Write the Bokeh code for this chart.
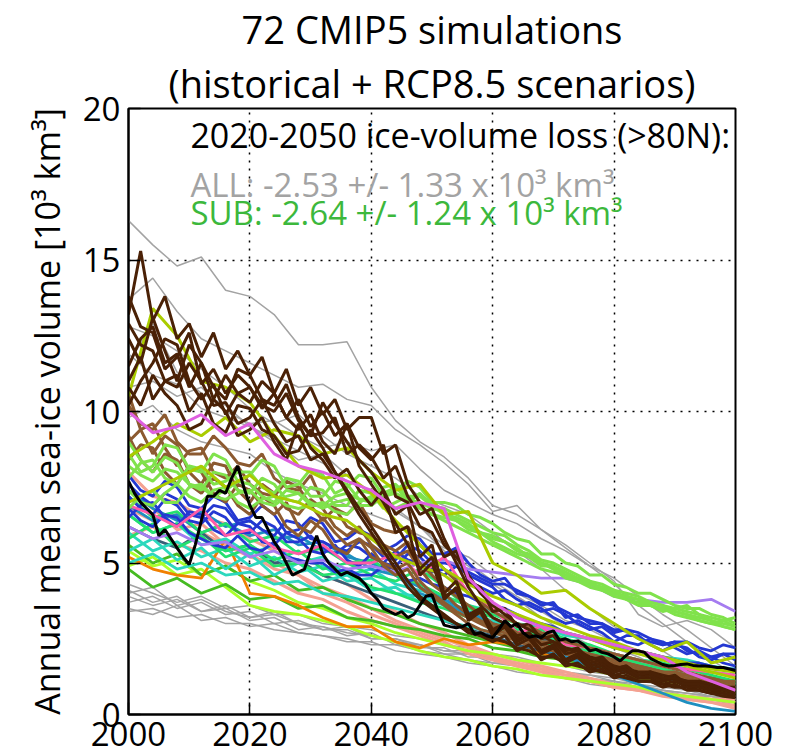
from bokeh.plotting import figure
from bokeh.models import FixedTicker, Label, Range1d, Title
from bokeh.embed import file_html
from bokeh.resources import INLINE

FONT = "Open Sans"

years_annual = list(range(2000, 2101))
years_2 = list(range(2000, 2101, 2))
years_4 = list(range(2000, 2101, 4))

x_ticks = [2000, 2020, 2040, 2060, 2080, 2100]
y_ticks = [0, 5, 10, 15, 20]

title_1 = "72 CMIP5 simulations"
title_2 = "(historical + RCP8.5 scenarios)"
y_label = "Annual mean sea-ice volume [10\u00b3 km\u00b3]"
note_head = "2020-2050 ice-volume loss (>80N):"
note_all = "ALL: -2.53 +/- 1.33 x 10\u00b3 km\u00b3"
note_sub = "SUB: -2.64 +/- 1.24 x 10\u00b3 km\u00b3"

# highlighted (black) simulation, annual values
black_line = [
    7.7, 7.3, 7.0, 6.8, 6.6, 5.9, 6.1, 5.8, 5.5, 5.2,
    4.95, 5.6, 6.4, 7.2, 7.2, 7.4, 7.3, 7.8, 8.2, 7.5,
    6.9, 6.5, 6.5, 6.1, 5.7, 5.4, 5.0, 4.6, 4.7, 4.8,
    5.4, 5.9, 5.3, 5.0, 4.8, 4.6, 4.7, 4.6, 4.5, 4.3,
    4.0, 3.8, 3.5, 3.4, 3.3, 3.4, 3.2, 3.3, 3.6, 3.9,
    3.95, 3.4, 2.95, 2.9, 2.86, 2.9, 3.0, 2.65, 2.7, 2.6,
    2.54, 2.8, 3.1, 2.9, 3.0, 2.7, 2.55, 2.6, 2.54, 2.7,
    2.76, 2.45, 2.5, 2.4, 2.43, 2.3, 2.1, 2.15, 2.05, 2.0,
    1.9, 1.77, 1.95, 2.1, 2.1, 2.05, 1.85, 1.75, 1.65, 1.6,
    1.62, 1.65, 1.67, 1.62, 1.6, 1.6, 1.58, 1.55, 1.55, 1.5,
    1.45,
]

# simulations with values every 2 years (2000, 2002, ..., 2100)
dark_brown = [
    [13.2, 15.3, 13.0, 13.8, 12.4, 12.9, 11.8, 12.6, 11.4, 12.0,
     11.2, 11.8, 10.6, 11.4, 10.2, 10.8, 9.9, 10.4, 9.4, 9.8,
     9.8, 8.6, 8.9, 7.6, 7.0, 6.4, 5.6, 5.2, 4.6, 4.0,
     3.6, 3.3, 3.0, 2.8, 2.6, 2.4, 2.2, 2.1, 1.9, 1.8,
     1.6, 1.5, 1.4, 1.4, 1.3, 1.2, 1.1, 1.0, 0.9, 0.9, 0.8],
    [11.5, 12.4, 12.8, 11.6, 11.9, 10.8, 11.6, 10.4, 11.2, 10.6,
     10.8, 10.1, 10.6, 9.8, 10.4, 9.5, 10.0, 9.2, 9.6, 8.8,
     8.4, 8.9, 7.2, 7.0, 6.2, 6.0, 5.2, 5.4, 4.4, 4.2,
     3.4, 3.5, 2.9, 3.0, 2.5, 2.6, 2.1, 2.2, 1.8, 1.9,
     1.5, 1.6, 1.3, 1.4, 1.2, 1.3, 1.0, 1.1, 0.9, 0.8, 0.7],
    [12.4, 11.6, 13.1, 12.0, 11.0, 12.2, 11.6, 10.8, 10.4, 11.4,
     11.2, 10.4, 10.2, 10.9, 9.8, 9.2, 10.3, 9.6, 9.0, 8.4,
     8.0, 7.4, 6.6, 6.9, 5.2, 5.6, 4.0, 4.4, 3.3, 3.5,
     2.8, 3.0, 2.5, 2.6, 2.1, 2.3, 1.8, 2.0, 1.6, 1.7,
     1.4, 1.5, 1.3, 1.3, 1.1, 1.2, 1.0, 0.9, 0.8, 0.8, 0.7],
    [10.2, 11.0, 11.6, 12.4, 12.2, 11.0, 10.4, 10.9, 9.9, 10.6,
     10.3, 11.0, 10.6, 9.8, 9.4, 9.9, 9.0, 8.6, 9.6, 8.2,
     7.6, 7.0, 6.3, 5.6, 4.8, 5.2, 3.8, 4.2, 3.1, 3.4,
     2.6, 2.9, 2.3, 2.5, 2.0, 2.2, 1.7, 1.9, 1.5, 1.6,
     1.3, 1.4, 1.2, 1.2, 1.0, 1.1, 0.9, 0.9, 0.8, 0.7, 0.6],
    [12.9, 12.2, 12.0, 11.0, 10.8, 11.6, 11.0, 10.2, 10.3, 9.6,
     9.8, 10.4, 9.6, 9.0, 9.2, 8.4, 8.6, 8.0, 7.3, 6.6,
     6.0, 5.4, 4.8, 4.2, 3.8, 3.5, 3.2, 3.0, 2.8, 2.6,
     2.5, 2.4, 2.2, 2.1, 1.9, 1.9, 1.7, 1.6, 1.5, 1.4,
     1.3, 1.2, 1.1, 1.1, 1.0, 0.9, 0.9, 0.8, 0.7, 0.7, 0.6],
    [10.8, 10.2, 11.2, 10.6, 10.2, 9.4, 9.6, 10.4, 10.0, 9.2,
     9.4, 9.8, 9.0, 8.4, 9.6, 8.8, 8.4, 7.8, 8.1, 7.4,
     6.9, 7.4, 6.0, 6.2, 4.6, 5.0, 3.9, 4.1, 3.2, 3.5,
     2.7, 2.9, 2.4, 2.6, 2.1, 2.3, 1.8, 2.0, 1.6, 1.7,
     1.4, 1.5, 1.2, 1.3, 1.1, 1.2, 1.0, 1.0, 0.9, 0.9, 0.8],
    [13.8, 12.8, 12.6, 11.4, 11.8, 12.6, 10.9, 11.4, 10.6, 11.2,
     10.8, 10.2, 10.0, 10.6, 9.7, 9.2, 9.3, 9.8, 8.6, 8.9,
     8.5, 7.8, 8.2, 7.2, 6.6, 6.8, 5.8, 5.0, 4.2, 3.6,
     3.2, 3.0, 2.6, 2.7, 2.3, 2.4, 2.0, 2.1, 1.7, 1.8,
     1.5, 1.6, 1.3, 1.4, 1.2, 1.2, 1.1, 1.1, 1.0, 0.9, 0.9],
    [11.0, 11.8, 10.4, 11.0, 11.2, 10.0, 10.6, 9.6, 9.3, 10.2,
     10.1, 9.4, 9.2, 8.6, 8.7, 9.4, 8.8, 8.0, 7.4, 6.8,
     6.2, 5.6, 5.0, 4.4, 3.9, 3.6, 3.3, 3.0, 2.7, 2.6,
     2.4, 2.6, 2.1, 2.3, 1.8, 2.0, 1.6, 1.7, 1.4, 1.5,
     1.2, 1.3, 1.1, 1.1, 0.9, 1.0, 0.8, 0.8, 0.7, 0.6, 0.55],
]
mid_brown = [
    [10.2, 9.6, 9.4, 9.9, 9.0, 8.6, 8.6, 9.2, 8.8, 8.3,
     8.2, 8.6, 7.8, 7.5, 7.4, 7.9, 7.0, 6.8, 6.6, 7.0,
     6.3, 6.1, 6.0, 6.2, 5.6, 5.2, 4.8, 4.4, 4.0, 3.7,
     3.4, 3.2, 3.0, 2.9, 2.7, 2.6, 2.4, 2.3, 2.2, 2.1,
     2.0, 1.9, 1.8, 1.7, 1.6, 1.5, 1.4, 1.3, 1.2, 1.1, 1.0],
    [9.0, 9.4, 9.6, 8.8, 8.2, 8.7, 8.8, 8.0, 7.8, 8.2,
     7.6, 7.3, 7.2, 7.7, 7.5, 6.9, 6.4, 6.8, 6.2, 6.0,
     5.9, 5.6, 5.4, 5.7, 5.0, 4.6, 4.2, 3.9, 3.6, 3.3,
     3.0, 2.9, 2.7, 2.6, 2.4, 2.4, 2.2, 2.1, 2.0, 1.9,
     1.8, 1.7, 1.6, 1.5, 1.4, 1.3, 1.3, 1.2, 1.1, 1.0, 0.9],
    [10.6, 9.4, 8.6, 9.2, 8.9, 8.0, 7.6, 8.3, 8.2, 7.4,
     7.0, 7.6, 7.3, 6.8, 6.6, 7.1, 6.8, 6.2, 5.9, 6.2,
     5.6, 5.3, 5.2, 5.4, 4.8, 4.3, 4.0, 3.6, 3.3, 3.1,
     2.9, 2.8, 2.6, 2.5, 2.3, 2.2, 2.1, 2.0, 1.9, 1.8,
     1.7, 1.6, 1.5, 1.4, 1.3, 1.3, 1.2, 1.1, 1.1, 1.0, 0.9],
    [8.4, 8.9, 8.8, 8.0, 7.6, 8.2, 8.0, 7.3, 7.0, 7.6,
     7.4, 6.9, 6.6, 7.0, 6.2, 6.0, 6.5, 6.0, 5.6, 5.8,
     5.2, 5.0, 4.8, 5.0, 4.4, 4.0, 3.7, 3.4, 3.2, 3.0,
     2.8, 2.7, 2.5, 2.4, 2.2, 2.1, 2.0, 1.9, 1.8, 1.7,
     1.6, 1.5, 1.4, 1.4, 1.3, 1.2, 1.2, 1.1, 1.0, 0.9, 0.8],
    [9.2, 8.4, 8.0, 8.6, 8.4, 7.6, 7.3, 7.8, 7.5, 6.9,
     6.6, 7.2, 6.9, 6.2, 5.9, 6.4, 6.1, 5.5, 5.3, 5.8,
     5.5, 4.9, 4.6, 4.8, 4.2, 3.9, 3.6, 3.3, 3.0, 2.8,
     2.7, 2.6, 2.4, 2.3, 2.2, 2.1, 2.0, 1.9, 1.8, 1.8,
     1.7, 1.7, 1.6, 1.5, 1.4, 1.4, 1.3, 1.2, 1.2, 1.1, 1.1],
]
light_green = [
    [8.6, 8.0, 8.2, 8.9, 8.8, 8.1, 8.0, 8.6, 8.4, 7.7,
     7.9, 8.4, 8.2, 7.5, 7.6, 8.1, 7.9, 7.3, 7.5, 7.9,
     7.8, 7.2, 7.4, 7.7, 7.5, 7.0, 7.0, 6.9, 6.6, 6.5,
     6.3, 6.0, 5.8, 5.7, 5.3, 5.3, 5.0, 4.9, 4.6, 4.6,
     4.3, 4.2, 4.0, 4.0, 3.8, 3.6, 3.5, 3.5, 3.3, 3.2, 3.0],
    [7.8, 8.3, 8.4, 7.8, 7.6, 8.2, 8.1, 7.6, 7.7, 8.0,
     8.0, 7.5, 7.3, 7.8, 7.7, 7.2, 7.2, 7.7, 7.6, 7.1,
     7.1, 7.5, 7.6, 7.2, 7.2, 6.9, 6.8, 6.6, 6.4, 6.2,
     6.0, 5.9, 5.6, 5.4, 5.1, 5.0, 4.8, 4.6, 4.4, 4.3,
     4.1, 4.0, 3.9, 3.7, 3.6, 3.5, 3.4, 3.3, 3.2, 3.1, 2.9],
    [9.0, 8.4, 8.0, 8.5, 8.3, 7.6, 7.4, 8.0, 7.9, 7.4,
     7.3, 7.8, 7.6, 7.1, 7.0, 7.5, 7.4, 6.9, 6.9, 7.4,
     7.3, 6.8, 7.0, 7.2, 6.9, 6.6, 6.5, 6.4, 6.2, 6.0,
     5.8, 5.7, 5.4, 5.3, 5.0, 4.9, 4.6, 4.5, 4.3, 4.2,
     4.0, 3.9, 3.8, 3.6, 3.5, 3.4, 3.3, 3.2, 3.1, 2.9, 2.8],
    [6.8, 7.2, 7.4, 7.0, 7.0, 7.5, 7.6, 7.2, 7.1, 7.3,
     7.4, 7.0, 6.9, 7.2, 7.3, 7.0, 6.8, 7.0, 7.1, 6.9,
     6.9, 7.2, 7.3, 7.1, 7.0, 6.8, 6.7, 6.4, 6.1, 6.0,
     5.9, 5.7, 5.5, 5.2, 4.9, 4.9, 4.7, 4.5, 4.4, 4.1,
     3.9, 3.8, 3.7, 3.7, 3.6, 3.4, 3.3, 3.1, 3.0, 3.1, 3.2],
    [7.4, 7.0, 6.9, 7.3, 7.6, 7.2, 7.0, 7.4, 7.5, 7.0,
     6.8, 7.1, 7.2, 6.9, 6.8, 6.9, 7.0, 6.7, 6.6, 7.0,
     7.2, 7.0, 6.8, 7.0, 7.3, 6.9, 6.6, 6.5, 6.3, 6.0,
     5.7, 5.5, 5.3, 5.2, 5.0, 4.8, 4.5, 4.4, 4.2, 4.1,
     4.0, 3.9, 3.8, 3.6, 3.4, 3.5, 3.6, 3.3, 3.1, 3.0, 2.9],
    [8.2, 7.9, 7.7, 8.1, 8.0, 7.6, 7.5, 7.2, 7.4, 7.7,
     7.6, 7.2, 7.0, 7.4, 7.3, 6.9, 6.9, 7.2, 7.3, 7.1,
     7.0, 7.3, 7.5, 7.1, 6.8, 6.6, 6.4, 6.2, 6.0, 5.8,
     5.6, 5.4, 5.2, 5.0, 4.8, 4.7, 4.6, 4.4, 4.3, 4.2,
     4.1, 3.8, 3.6, 3.6, 3.5, 3.3, 3.2, 3.1, 3.0, 2.9, 2.8],
]
blue = [
    [7.9, 7.4, 7.2, 7.7, 7.5, 6.9, 6.8, 7.2, 7.0, 6.4,
     6.5, 6.9, 6.6, 6.0, 6.1, 6.5, 6.3, 5.7, 5.8, 6.1,
     5.9, 5.4, 5.6, 5.9, 5.8, 5.3, 5.3, 5.5, 5.0, 4.6,
     4.4, 4.5, 4.0, 3.9, 3.6, 3.7, 3.2, 3.3, 3.0, 3.0,
     2.7, 2.8, 2.5, 2.4, 2.3, 2.4, 2.1, 2.0, 1.9, 2.0, 1.8],
    [7.2, 6.8, 6.6, 7.1, 6.9, 6.4, 6.3, 6.7, 6.5, 6.0,
     6.0, 6.4, 6.2, 5.7, 5.7, 5.9, 5.5, 5.3, 5.6, 5.5,
     5.2, 5.0, 5.4, 5.1, 5.0, 4.7, 4.8, 4.5, 4.4, 4.2,
     4.0, 4.1, 3.8, 3.6, 3.4, 3.5, 3.3, 3.0, 2.8, 2.9,
     2.6, 2.4, 2.3, 2.5, 2.4, 2.2, 2.0, 2.1, 1.9, 1.7, 1.6],
    [6.5, 6.9, 7.0, 6.5, 6.2, 6.7, 6.6, 6.1, 5.9, 6.3,
     6.2, 5.7, 5.6, 6.0, 5.8, 5.4, 5.3, 5.6, 5.1, 4.9,
     5.3, 5.0, 4.9, 5.3, 5.2, 4.8, 4.6, 4.9, 4.6, 4.4,
     4.2, 3.8, 3.6, 3.7, 3.5, 3.2, 3.0, 3.1, 2.9, 2.7,
     2.4, 2.6, 2.6, 2.3, 2.1, 2.3, 2.2, 1.9, 1.8, 2.0, 2.0],
    [7.6, 7.2, 6.9, 7.3, 7.1, 6.6, 6.5, 6.9, 6.8, 6.3,
     6.4, 6.1, 5.9, 6.4, 6.3, 5.8, 5.7, 5.5, 5.4, 5.7,
     5.6, 5.2, 5.1, 5.6, 5.4, 5.0, 5.0, 4.9, 4.7, 4.5,
     4.3, 4.3, 4.1, 3.9, 3.7, 3.6, 3.4, 3.2, 3.1, 3.0,
     2.8, 2.8, 2.7, 2.5, 2.3, 2.4, 2.4, 2.2, 2.1, 2.3, 2.2],
    [6.8, 6.4, 6.2, 6.6, 6.5, 6.0, 5.8, 5.6, 5.5, 5.9,
     5.5, 5.4, 5.7, 5.2, 5.1, 5.0, 5.0, 4.7, 4.8, 4.6,
     4.6, 4.9, 4.8, 4.4, 4.5, 4.3, 4.2, 4.0, 3.9, 3.7,
     3.6, 3.5, 3.3, 3.1, 3.0, 2.9, 2.7, 2.6, 2.5, 2.4,
     2.3, 2.2, 2.1, 2.0, 1.9, 1.8, 1.7, 1.7, 1.6, 1.5, 1.5],
]

# simulations with values every 4 years (2000, 2004, ..., 2100)
gray_high = [
    [16.3, 15.5, 14.8, 15.1, 14.0, 13.8, 13.2, 12.2, 12.2, 12.3, 10.8, 9.7, 9.0, 8.5, 7.8, 6.9, 6.6, 6.1, 5.6, 5.0, 4.4, 3.3, 2.9, 3.1, 2.8, 2.2],
    [13.7, 14.4, 13.3, 12.4, 12.0, 11.6, 11.2, 10.8, 10.9, 10.4, 10.2, 9.4, 8.9, 8.3, 7.6, 6.7, 6.9, 6.1, 5.5, 4.9, 4.3, 3.6, 3.0, 2.4, 1.8, 1.3],
    [12.8, 12.5, 12.0, 11.4, 10.8, 10.1, 9.6, 9.9, 9.2, 8.6, 8.2, 7.8, 7.2, 6.9, 6.6, 6.0, 5.4, 4.8, 4.1, 3.5, 2.9, 2.5, 2.1, 1.6, 1.2, 0.9],
    [11.6, 12.9, 11.3, 10.6, 10.2, 9.5, 9.0, 8.4, 8.6, 7.9, 7.3, 6.7, 6.2, 5.6, 5.0, 4.4, 3.9, 3.4, 2.9, 2.6, 2.2, 1.9, 1.5, 1.2, 0.9, 0.6],
    [10.8, 11.0, 10.5, 10.8, 10.0, 9.6, 9.7, 9.2, 8.8, 9.0, 8.7, 8.9, 8.1, 7.4, 7.0, 6.6, 6.3, 5.8, 5.4, 4.9, 4.5, 3.9, 3.3, 2.8, 2.2, 1.6],
    [9.8, 10.2, 9.4, 9.0, 8.8, 8.6, 8.0, 7.6, 7.3, 6.9, 6.6, 6.3, 5.9, 5.5, 5.2, 4.6, 4.0, 3.6, 3.1, 2.8, 2.4, 2.0, 1.7, 1.4, 1.1, 0.8],
    [11.9, 11.2, 10.9, 10.1, 9.8, 9.5, 9.1, 8.7, 8.3, 7.7, 7.4, 6.8, 6.2, 5.4, 4.9, 4.3, 3.8, 3.2, 2.7, 2.3, 1.9, 1.6, 1.3, 1.0, 0.8, 0.5],
]
gray_low = [
    [4.1, 3.7, 3.9, 3.4, 3.6, 3.2, 3.3, 3.0, 2.9, 2.7, 2.6, 2.4, 2.3, 2.1, 2.0, 1.8, 1.7, 1.5, 1.4, 1.2, 1.1, 0.9, 0.8, 0.7, 0.6, 0.5],
    [3.7, 3.9, 3.5, 3.7, 3.3, 3.4, 3.0, 3.1, 2.8, 2.8, 2.5, 2.5, 2.2, 2.2, 1.9, 1.9, 1.6, 1.6, 1.3, 1.3, 1.1, 1.0, 0.8, 0.7, 0.6, 0.4],
    [3.5, 3.3, 3.6, 3.1, 3.2, 2.9, 3.0, 2.7, 2.6, 2.4, 2.4, 2.1, 2.0, 1.9, 1.7, 1.6, 1.4, 1.3, 1.2, 1.0, 0.9, 0.8, 0.6, 0.5, 0.4, 0.3],
    [4.3, 4.0, 3.7, 3.9, 3.5, 3.6, 3.3, 3.3, 3.0, 2.9, 2.8, 2.6, 2.5, 2.3, 2.2, 2.0, 1.9, 1.7, 1.6, 1.4, 1.3, 1.1, 1.0, 0.8, 0.7, 0.6],
    [3.9, 3.6, 3.8, 3.4, 3.5, 3.1, 3.2, 2.8, 2.9, 2.6, 2.7, 2.3, 2.3, 2.0, 2.0, 1.7, 1.7, 1.4, 1.4, 1.1, 1.1, 0.9, 0.8, 0.6, 0.6, 0.4],
    [3.4, 3.5, 3.2, 3.3, 3.0, 3.0, 2.8, 2.7, 2.6, 2.5, 2.3, 2.3, 2.1, 2.0, 1.8, 1.7, 1.6, 1.4, 1.3, 1.2, 1.0, 0.9, 0.7, 0.6, 0.5, 0.3],
    [4.0, 4.2, 3.6, 3.8, 3.4, 3.2, 3.4, 3.0, 2.8, 2.9, 2.5, 2.5, 2.3, 2.1, 2.1, 1.8, 1.6, 1.6, 1.4, 1.3, 1.2, 1.0, 0.9, 0.8, 0.6, 0.5],
]
salmon = [
    [8.0, 7.2, 7.0, 6.5, 6.3, 5.8, 5.4, 5.0, 4.6, 4.3, 3.8, 3.4, 3.0, 2.7, 2.3, 2.0, 1.8, 1.6, 1.4, 1.2, 1.0, 0.8, 0.7, 0.5, 0.4, 0.3],
    [6.8, 6.4, 6.6, 6.0, 5.6, 5.2, 5.0, 4.6, 4.2, 3.9, 3.5, 3.1, 2.8, 2.5, 2.2, 1.9, 1.7, 1.5, 1.3, 1.1, 0.9, 0.8, 0.6, 0.5, 0.4, 0.2],
    [5.9, 6.2, 5.6, 5.4, 5.0, 4.8, 4.4, 4.0, 3.8, 3.4, 3.1, 2.9, 2.6, 2.3, 2.1, 1.9, 1.6, 1.4, 1.2, 1.1, 0.9, 0.8, 0.7, 0.6, 0.5, 0.4],
    [7.4, 6.8, 6.1, 6.3, 5.6, 5.3, 4.8, 4.6, 4.0, 3.7, 3.3, 3.0, 2.7, 2.4, 2.0, 1.8, 1.6, 1.5, 1.3, 1.1, 1.0, 0.9, 0.7, 0.6, 0.5, 0.5],
]
lime = [
    [4.9, 5.2, 4.6, 4.8, 4.2, 3.6, 3.4, 3.3, 3.1, 2.9, 2.6, 2.4, 2.1, 1.9, 1.8, 1.6, 1.5, 1.3, 1.2, 1.1, 1.0, 0.9, 0.7, 0.6, 0.5, 0.4],
    [5.4, 4.9, 5.1, 4.6, 4.9, 4.4, 4.1, 3.7, 3.5, 3.2, 3.0, 2.7, 2.5, 2.3, 2.1, 2.0, 1.8, 1.7, 1.6, 1.5, 1.3, 1.2, 1.1, 1.0, 0.8, 0.7],
]
green = [
    [4.8, 4.2, 4.5, 4.0, 4.3, 3.8, 3.9, 3.5, 3.6, 3.2, 3.1, 2.9, 2.8, 2.6, 2.5, 2.2, 2.1, 1.9, 1.8, 1.6, 1.5, 1.3, 1.2, 1.0, 0.9, 0.8],
    [5.6, 5.0, 5.3, 4.6, 4.9, 4.4, 4.6, 4.1, 4.2, 3.8, 3.5, 3.3, 3.0, 2.8, 2.6, 2.4, 2.2, 2.0, 1.9, 1.8, 1.6, 1.5, 1.4, 1.3, 1.2, 1.1],
]
orange = [
    [5.2, 4.8, 4.6, 4.5, 5.8, 4.0, 3.9, 3.6, 3.2, 2.9, 2.9, 2.4, 2.2, 2.5, 2.3, 2.4, 2.3, 2.0, 1.9, 1.8, 1.6, 1.5, 1.4, 1.3, 1.2, 1.1],
]
dark_slate = [
    [6.2, 5.8, 5.5, 6.0, 5.4, 5.6, 5.0, 5.1, 4.6, 4.3, 4.0, 3.7, 3.4, 3.1, 2.8, 2.6, 2.3, 2.1, 1.9, 1.7, 1.5, 1.3, 1.2, 1.0, 0.9, 0.8],
]
cyan = [
    [6.0, 5.4, 5.7, 5.2, 5.5, 4.9, 5.2, 4.7, 4.9, 4.4, 4.5, 4.0, 3.9, 3.6, 3.3, 3.0, 2.8, 2.6, 2.4, 2.2, 2.0, 1.8, 1.7, 1.5, 1.4, 1.3],
    [5.4, 5.8, 5.1, 5.5, 4.8, 5.3, 4.6, 5.0, 4.4, 4.6, 4.1, 4.2, 3.7, 3.8, 3.3, 3.1, 2.7, 2.6, 2.3, 2.1, 1.9, 1.7, 1.5, 1.3, 1.2, 1.0],
    [6.6, 6.0, 6.3, 5.6, 5.8, 5.3, 5.6, 5.0, 5.2, 4.6, 4.8, 4.3, 4.1, 3.9, 3.6, 3.4, 3.0, 2.9, 2.6, 2.5, 2.2, 2.1, 1.9, 1.8, 1.6, 1.5],
    [5.0, 5.3, 4.8, 5.0, 4.6, 4.7, 4.3, 4.4, 4.0, 3.9, 3.7, 3.5, 3.3, 3.1, 2.9, 2.7, 2.5, 2.3, 2.1, 1.9, 1.7, 1.5, 1.3, 1.2, 1.0, 0.9],
]
teal = [
    [6.9, 6.4, 6.6, 6.0, 6.3, 5.9, 6.1, 5.6, 5.7, 5.2, 5.0, 4.6, 4.2, 3.8, 3.4, 3.0, 2.6, 2.2, 1.9, 1.6, 1.3, 1.0, 0.7, 0.4, 0.2, 0.1],
    [7.4, 6.8, 6.4, 6.7, 6.2, 6.4, 5.8, 5.9, 5.4, 5.3, 4.8, 4.6, 4.0, 3.7, 3.3, 3.0, 2.7, 2.5, 2.2, 2.0, 1.8, 1.6, 1.5, 1.3, 1.2, 1.1],
]
spring_green = [
    [6.6, 6.0, 6.3, 5.8, 5.4, 5.6, 5.1, 5.4, 4.8, 5.0, 4.6, 4.4, 4.8, 4.2, 3.5, 3.2, 2.8, 2.6, 2.3, 2.1, 1.9, 1.7, 1.5, 1.3, 1.2, 1.0],
    [7.2, 6.5, 6.7, 6.0, 6.3, 5.7, 5.9, 5.3, 5.5, 5.0, 5.1, 4.6, 4.3, 3.9, 3.6, 3.3, 3.0, 2.8, 2.5, 2.3, 2.0, 1.8, 1.7, 1.5, 1.3, 1.1],
    [5.8, 6.3, 5.5, 5.9, 5.2, 5.5, 4.9, 5.0, 4.6, 4.7, 4.2, 4.0, 3.7, 3.5, 3.2, 2.9, 2.7, 2.4, 2.2, 2.0, 1.8, 1.6, 1.4, 1.3, 1.1, 1.0],
]
purple = [
    [6.2, 5.8, 6.0, 5.6, 5.7, 5.2, 5.4, 5.0, 5.1, 4.8, 4.9, 4.7, 5.0, 5.1, 4.8, 4.7, 4.6, 4.5, 4.5, 4.3, 3.9, 3.8, 3.7, 3.7, 3.8, 3.4],
]
pink = [
    [6.9, 6.6, 6.2, 6.8, 5.9, 6.1, 5.5, 5.3, 5.6, 5.0, 5.0, 5.3, 4.6, 5.2, 4.0, 3.5, 2.7, 2.9, 2.3, 2.2, 2.0, 1.8, 1.6, 1.5, 1.4, 1.3],
]
yellow_green = [
    [10.5, 13.4, 12.5, 11.0, 10.8, 10.3, 9.2, 8.2, 7.8, 7.9, 7.3, 6.4, 5.6, 4.8, 4.3, 3.9, 3.6, 3.2, 2.9, 2.6, 2.4, 2.1, 1.9, 1.7, 1.5, 1.4],
    [8.5, 9.0, 9.6, 9.2, 9.8, 9.0, 9.4, 9.2, 8.6, 8.8, 8.0, 7.4, 7.6, 6.6, 6.7, 5.0, 4.6, 4.0, 4.1, 3.5, 3.0, 2.5, 2.1, 2.4, 1.7, 1.9],
    [7.0, 7.4, 7.8, 8.2, 7.5, 7.9, 7.2, 7.0, 6.6, 6.4, 5.8, 5.2, 4.9, 4.6, 4.0, 3.6, 3.3, 3.0, 2.7, 2.5, 2.2, 2.0, 1.8, 1.6, 1.4, 1.2],
]
magenta = [
    [10.0, 9.3, 9.5, 9.9, 9.2, 9.6, 8.6, 8.2, 8.0, 7.7, 7.4, 6.8, 7.0, 6.8, 4.5, 3.7, 3.2, 2.9, 2.7, 2.5, 2.3, 2.1, 1.9, 1.4, 1.1, 0.8],
]

p = figure(width=797, height=756,
           x_range=Range1d(2000, 2100), y_range=Range1d(0, 20),
           output_backend="svg", toolbar_location=None,
           min_border_left=128, min_border_right=62,
           min_border_top=105, min_border_bottom=42)
p.background_fill_color = "white"
p.border_fill_color = "white"
p.outline_line_color = "black"
p.outline_line_width = 2

# two-line title: inner line added first, outer line added last
p.title = None
p.add_layout(Title(text=title_2, align="center", text_font=FONT, text_font_size="38px",
                   text_font_style="normal", text_color="black", standoff=0), "above")
p.add_layout(Title(text=title_1, align="center", text_font=FONT, text_font_size="38px",
                   text_font_style="normal", text_color="black", standoff=0), "above")

GRAY = "#a3a3a3"
# groups: (series, years, colour, width) -- drawing order back to front
groups = [
    (gray_high, years_4, GRAY, 1.5),
    (gray_low, years_4, GRAY, 1.5),
    (salmon, years_4, "#f4a191", 3.0),
    (lime, years_4, "#aaff2a", 2.8),
    (green, years_4, "#46bb22", 2.8),
    (orange, years_4, "#f08000", 2.8),
    (dark_slate, years_4, "#386078", 2.8),
    (cyan, years_4, "#2cd8bd", 2.8),
    (teal, years_4, "#1e8fc0", 2.8),
    (spring_green, years_4, "#24e06e", 2.8),
    (blue, years_2, "#2438d2", 2.8),
    (purple, years_4, "#a57cf0", 2.8),
    (pink, years_4, "#ff5aa8", 2.8),
    (mid_brown, years_2, "#8c5a30", 3.0),
    (light_green, years_2, "#80e24c", 3.0),
    (yellow_green, years_4, "#aacc00", 3.0),
    (dark_brown, years_2, "#4a2106", 3.0),
    (magenta, years_4, "#df5fe0", 3.0),
]
for series, yrs, color, width in groups:
    xs = [yrs[:len(s)] for s in series]
    p.multi_line(xs=xs, ys=series, line_color=color, line_width=width)

p.line(years_annual[:len(black_line)], black_line, line_color="black", line_width=3.0)

# axes
for ax in (p.xaxis, p.yaxis):
    ax.major_label_text_font = FONT
    ax.major_label_text_font_size = "33px"
    ax.major_label_text_color = "black"
    ax.axis_line_width = 2
    ax.axis_line_color = "black"
    ax.major_tick_in = 12
    ax.major_tick_out = 0
    ax.major_tick_line_width = 1.5
    ax.minor_tick_line_color = None
p.xaxis.ticker = FixedTicker(ticks=x_ticks)
p.yaxis.ticker = FixedTicker(ticks=y_ticks)
p.xaxis.major_label_standoff = 7
p.yaxis.major_label_standoff = 8
p.yaxis.axis_label = y_label
p.yaxis.axis_label_text_font = FONT
p.yaxis.axis_label_text_font_size = "34px"
p.yaxis.axis_label_text_font_style = "normal"
p.yaxis.axis_label_text_color = "black"
p.yaxis.axis_label_standoff = 10

p.grid.grid_line_color = "black"
p.grid.grid_line_dash = "2 6"
p.grid.grid_line_width = 1.5
p.xgrid.ticker = FixedTicker(ticks=x_ticks)
p.ygrid.ticker = FixedTicker(ticks=y_ticks)

# annotations
p.add_layout(Label(x=2010.2, y=19.12, text=note_head, text_font=FONT, text_font_size="34px",
                   text_color="black", text_baseline="alphabetic"))
p.add_layout(Label(x=2010.2, y=17.5, text=note_all, text_font=FONT, text_font_size="33px",
                   text_color=GRAY, text_baseline="alphabetic"))
p.add_layout(Label(x=2010.2, y=16.58, text=note_sub, text_font=FONT, text_font_size="33px",
                   text_color="#3cb83c", text_baseline="alphabetic"))

open("out.html", "w").write(file_html(p, INLINE))
